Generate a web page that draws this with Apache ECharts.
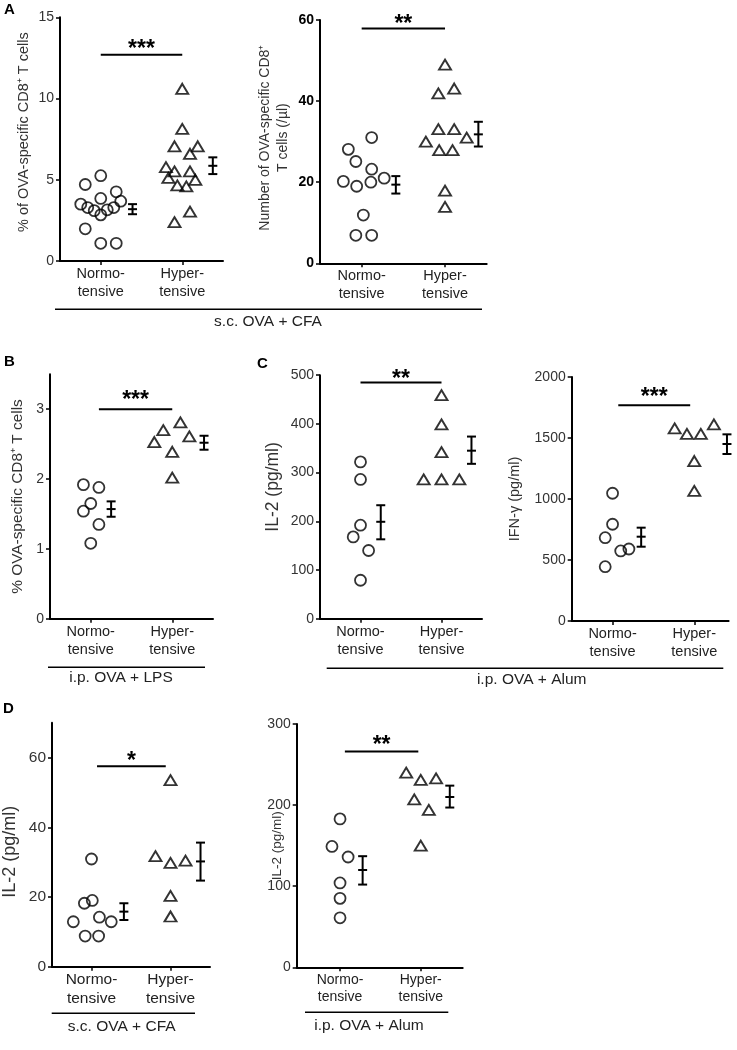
<!DOCTYPE html>
<html><head><meta charset="utf-8">
<script src="https://cdn.jsdelivr.net/npm/echarts@6/dist/echarts.min.js"></script>
<style>html,body{margin:0;padding:0;background:#fff}#c{width:737px;height:1050px}</style>
</head><body><div id="c"></div>
<script>
// ---------- DATA ----------
const groupLabels = ['Normo-\ntensive', 'Hyper-\ntensive'];

// Panel A (left): % of OVA-specific CD8+ T cells
const a1NormoY = [5.25, 4.71, 4.26, 3.85, 3.68, 3.5, 3.29, 3.1, 3.29, 3.15, 2.84, 1.98, 1.09, 1.09];
const a1NormoJ = [0, -0.19, 0.19, 0, 0.245, -0.245, -0.16, -0.08, 0.16, 0.08, 0, -0.19, 0, 0.19];
const a1HyperY = [10.6, 8.13, 7.06, 7.06, 6.6, 5.78, 5.51, 5.51, 5.12, 5.0, 4.65, 4.59, 3.04, 2.39];
const a1HyperJ = [0, 0, -0.095, 0.19, 0.095, -0.2, -0.095, 0.095, -0.17, 0.16, -0.06, 0.05, 0.095, -0.095];
const a1Stats = [[3.19, 2.88, 3.5], [5.86, 5.35, 6.38]]; // mean, low, high
const a1Sig = {from: 1, to: 2, y: 12.7, text: '***'};

// Panel A (right): number of OVA-specific CD8+ T cells (/µl)
const a2NormoY = [31.0, 28.1, 25.1, 23.2, 20.2, 19.0, 20.0, 21.0, 11.9, 6.9, 6.9];
const a2NormoJ = [0.12, -0.16, -0.07, 0.12, -0.22, -0.06, 0.11, 0.27, 0.02, -0.07, 0.12];
const a2HyperY = [49.0, 41.9, 43.1, 33.1, 33.1, 30.0, 31.0, 27.9, 27.9, 17.9, 13.9];
const a2HyperJ = [0, -0.08, 0.11, -0.08, 0.11, -0.23, 0.26, -0.07, 0.09, 0, 0];
const a2Stats = [[19.4, 17.2, 21.5], [31.8, 28.8, 34.9]];
const a2Sig = {from: 1, to: 2, y: 57.9, text: '**'};

// Panel B
const bNormoY = [1.92, 1.88, 1.65, 1.54, 1.35, 1.08];
const bNormoJ = [-0.09, 0.1, 0, -0.09, 0.1, 0];
const bHyperY = [2.81, 2.7, 2.61, 2.53, 2.39, 2.02];
const bHyperJ = [0.1, -0.11, 0.21, -0.22, 0, 0];
const bStats = [[1.57, 1.46, 1.68], [2.52, 2.42, 2.62]];
const bSig = {from: 1.1, to: 2, y: 3.0, text: '***'};

// Panel C (left): IL-2
const c1NormoY = [322, 286, 192, 168, 140, 79];
const c1NormoJ = [0, 0, 0, -0.09, 0.1, 0];
const c1HyperY = [459, 399, 342, 286, 286, 286];
const c1HyperJ = [0, 0, 0, -0.22, 0, 0.22];
const c1Stats = [[199, 163, 233], [345, 318, 374]];
const c1Sig = {from: 1, to: 2, y: 485, text: '**'};

// Panel C (right): IFN-γ
const c2NormoY = [1047, 793, 683, 574, 590, 445];
const c2NormoJ = [0, 0, -0.09, 0.1, 0.2, -0.09];
const c2HyperY = [1579, 1533, 1533, 1612, 1311, 1066];
const c2HyperJ = [-0.24, -0.09, 0.08, 0.24, 0, 0];
const c2Stats = [[691, 609, 765], [1451, 1369, 1530]];
const c2Sig = {from: 1.07, to: 1.95, y: 1768, text: '***'};

// Panel D (left): IL-2, s.c. OVA + CFA
const d1NormoY = [30.9, 18.2, 19.0, 12.9, 14.2, 12.9, 8.8, 8.8];
const d1NormoJ = [0, -0.09, 0.01, -0.23, 0.1, 0.25, -0.08, 0.09];
const d1HyperY = [53.5, 31.7, 29.8, 30.4, 20.3, 14.4];
const d1HyperJ = [0, -0.19, 0, 0.19, 0, 0];
const d1Stats = [[15.8, 13.4, 18.2], [30.2, 24.7, 35.6]];
const d1Sig = {from: 1.07, to: 1.94, y: 57.5, text: '*'};

// Panel D (right): IL-2, i.p. OVA + Alum
const d2NormoY = [183, 149, 136, 104, 85, 61];
const d2NormoJ = [0, -0.1, 0.1, 0, 0, 0];
const d2HyperY = [240, 231, 233, 207, 194, 150];
const d2HyperJ = [-0.18, 0, 0.19, -0.08, 0.1, 0];
const d2Stats = [[120, 102, 137], [210, 197, 224]];
const d2Sig = {from: 1.06, to: 1.97, y: 266, text: '**'};

// ---------- LAYOUT / STYLE ----------
const FONT = '"Liberation Sans", Arial, sans-serif';
const panels = [
  {grid: {left: 60, top: 17.3, width: 163, height: 243.7}, xr: [0.5, 2.5], yr: [0, 15], yTicks: [0, 5, 10, 15],
   name: '% of OVA-specific CD8⁺ T cells', gap: 27, pad: [0, 0, 0, 14], nameFs: 14.5, tickFs: 14, xFs: 14.5, bold: false, starGap: 9.7,
   nY: a1NormoY, nJ: a1NormoJ, hY: a1HyperY, hJ: a1HyperJ, st: a1Stats, eo: [0.39, 0.375], sig: a1Sig},
  {grid: {left: 320, top: 20, width: 166.7, height: 243.3}, xr: [0.5, 2.5], yr: [0, 60], yTicks: [0, 20, 40, 60],
   name: 'Number of OVA-specific CD8⁺\nT cells (/µl)', gap: 28, pad: [0, 0, 0, 8], nameFs: 14, tickFs: 14, xFs: 14.5, bold: true, starGap: 9,
   nY: a2NormoY, nJ: a2NormoJ, hY: a2HyperY, hJ: a2HyperJ, st: a2Stats, eo: [0.41, 0.4], sig: a2Sig},
  {grid: {left: 50, top: 374.3, width: 163, height: 244.4}, xr: [0.5, 2.5], yr: [0, 3.5], yTicks: [0, 1, 2, 3],
   name: '% OVA-specific CD8⁺ T cells', gap: 23, pad: [0, 0, 0, 0], nameFs: 15.4, tickFs: 14, xFs: 14.5, bold: false, starGap: 13.6,
   nY: bNormoY, nJ: bNormoJ, hY: bHyperY, hJ: bHyperJ, st: bStats, eo: [0.25, 0.39], sig: bSig},
  {grid: {left: 320, top: 375.2, width: 162, height: 243.5}, xr: [0.5, 2.5], yr: [0, 500], yTicks: [0, 100, 200, 300, 400, 500],
   name: 'IL-2 (pg/ml)', gap: 38, pad: [0, 0, 0, 20], nameFs: 17.5, tickFs: 14, xFs: 14.5, bold: false, starGap: 7.5,
   nY: c1NormoY, nJ: c1NormoJ, hY: c1HyperY, hJ: c1HyperJ, st: c1Stats, eo: [0.25, 0.37], sig: c1Sig},
  {grid: {left: 571.7, top: 377, width: 156.9, height: 244}, xr: [0.5, 2.42], yr: [0, 2000], yTicks: [0, 500, 1000, 1500, 2000],
   name: 'IFN-γ (pg/ml)', gap: 48, pad: [0, 0, 0, 0], nameFs: 14.5, tickFs: 14, xFs: 14.5, bold: false, starGap: 12.3,
   nY: c2NormoY, nJ: c2NormoJ, hY: c2HyperY, hJ: c2HyperJ, st: c2Stats, eo: [0.35, 0.4], sig: c2Sig},
  {grid: {left: 46.7, top: 722.7, width: 163.3, height: 244}, xr: [0.5, 2.5], yr: [0, 70], yTicks: [0, 20, 40, 60],
   name: 'IL-2 (pg/ml)', gap: 33, pad: [0, 14, 0, 0], nameFs: 18, tickFs: 15.5, xFs: 15.5, bold: false, starGap: 10,
   nY: d1NormoY, nJ: d1NormoJ, hY: d1HyperY, hJ: d1HyperJ, st: d1Stats, eo: [0.41, 0.38], sig: d1Sig},
  {grid: {left: 296.7, top: 724, width: 166, height: 243.3}, xr: [0.463, 2.52], yr: [0, 300], yTicks: [0, 100, 200, 300],
   name: 'IL-2 (pg/ml)', gap: 10, pad: [0, 0, 0, 0], nameFs: 13.5, tickFs: 14, xFs: 14, bold: false, starGap: 10.7,
   nY: d2NormoY, nJ: d2NormoJ, hY: d2HyperY, hJ: d2HyperJ, st: d2Stats, eo: [0.28, 0.36], sig: d2Sig}
];

const grids = [], xAxes = [], yAxes = [], series = [];
const axisLine = {show: true, onZero: false, lineStyle: {color: '#000', width: 2}};

function errRender(params, api) {
  const x = api.value(0), m = api.value(1), lo = api.value(2), hi = api.value(3);
  const pm = api.coord([x, m]), pl = api.coord([x, lo]), ph = api.coord([x, hi]);
  const w = 4.5, st = {stroke: '#000', lineWidth: 2};
  return {type: 'group', children: [
    {type: 'line', shape: {x1: pm[0], y1: ph[1], x2: pm[0], y2: pl[1]}, style: st},
    {type: 'line', shape: {x1: pm[0] - w, y1: ph[1], x2: pm[0] + w, y2: ph[1]}, style: st},
    {type: 'line', shape: {x1: pm[0] - w, y1: pm[1], x2: pm[0] + w, y2: pm[1]}, style: st},
    {type: 'line', shape: {x1: pm[0] - w, y1: pl[1], x2: pm[0] + w, y2: pl[1]}, style: st}
  ]};
}

panels.forEach((p, i) => {
  grids.push(Object.assign({containLabel: false}, p.grid));
  xAxes.push({
    type: 'value', gridIndex: i, min: p.xr[0], max: p.xr[1],
    axisLine: axisLine, splitLine: {show: false},
    axisTick: {show: true, customValues: [1, 2], length: 4, lineStyle: {color: '#000', width: 1.5}},
    axisLabel: {customValues: [1, 2], formatter: v => groupLabels[Math.round(v) - 1], margin: 4,
      fontFamily: FONT, fontSize: p.xFs, lineHeight: p.xFs + 3.5, color: '#222'}
  });
  yAxes.push({
    type: 'value', gridIndex: i, min: p.yr[0], max: p.yr[1],
    axisLine: axisLine, splitLine: {show: false},
    axisTick: {show: true, customValues: p.yTicks, length: 4, lineStyle: {color: '#000', width: 1.5}},
    axisLabel: {customValues: p.yTicks, formatter: v => String(v), margin: 6, fontFamily: FONT, fontSize: p.tickFs,
      color: p.bold ? '#000' : '#333', fontWeight: p.bold ? 'bold' : 'normal'},
    name: p.name, nameLocation: 'middle', nameGap: p.gap, nameMoveOverlap: false,
    nameTextStyle: {fontFamily: FONT, fontSize: p.nameFs, color: '#333', lineHeight: 18, padding: p.pad}
  });
  const mk = (ys, js, g) => ys.map((y, k) => [g + js[k], y]);
  series.push({
    type: 'scatter', xAxisIndex: i, yAxisIndex: i, symbol: 'circle', symbolSize: 11,
    itemStyle: {color: 'rgba(0,0,0,0)', borderColor: '#000', borderWidth: 1.8},
    data: mk(p.nY, p.nJ, 1), silent: true
  });
  series.push({
    type: 'scatter', xAxisIndex: i, yAxisIndex: i, symbol: 'triangle', symbolSize: [12, 10],
    itemStyle: {color: 'rgba(0,0,0,0)', borderColor: '#000', borderWidth: 1.9},
    data: mk(p.hY, p.hJ, 2), silent: true
  });
  series.push({
    type: 'custom', xAxisIndex: i, yAxisIndex: i, renderItem: errRender, silent: true,
    data: [[1 + p.eo[0]].concat(p.st[0]), [2 + p.eo[1]].concat(p.st[1])]
  });
  const sig = p.sig, sg = p.starGap;
  series.push({
    type: 'custom', xAxisIndex: i, yAxisIndex: i, silent: true,
    renderItem: (params, api) => {
      const a = api.coord([api.value(0), api.value(2)]), b = api.coord([api.value(1), api.value(2)]);
      return {type: 'group', children: [
        {type: 'line', shape: {x1: a[0], y1: a[1], x2: b[0], y2: b[1]}, style: {stroke: '#000', lineWidth: 2}},
        {type: 'text', x: (a[0] + b[0]) / 2, y: a[1] - sg + 5,
         style: {text: sig.text, fontSize: 23, fontWeight: 'bold', fontFamily: FONT, fill: '#000', align: 'center', verticalAlign: 'middle'}}
      ]};
    },
    data: [[sig.from, sig.to, sig.y]]
  });
});

// group brackets and panel letters
const groupLines = [
  {x1: 55, x2: 482, y: 309.3, text: 's.c. OVA + CFA', tx: 268, ty: 322},
  {x1: 48, x2: 205, y: 667.3, text: 'i.p. OVA + LPS', tx: 121, ty: 678},
  {x1: 326.7, x2: 723.3, y: 668.3, text: 'i.p. OVA + Alum', tx: 531.7, ty: 680},
  {x1: 51.7, x2: 195, y: 1013.3, text: 's.c. OVA + CFA', tx: 121.7, ty: 1026.7},
  {x1: 305, x2: 448.3, y: 1012.3, text: 'i.p. OVA + Alum', tx: 369, ty: 1026}
];
const letters = [['A', 4, 2], ['B', 4, 354], ['C', 257, 356], ['D', 3, 701]];
const graphic = [];
groupLines.forEach(g => {
  graphic.push({type: 'line', shape: {x1: g.x1, y1: g.y, x2: g.x2, y2: g.y}, style: {stroke: '#000', lineWidth: 1.6}, silent: true});
  graphic.push({type: 'text', x: g.tx, y: g.ty, style: {text: g.text, fontFamily: FONT, fontSize: 15.5, fill: '#222', align: 'center', verticalAlign: 'middle'}, silent: true});
});
letters.forEach(l => graphic.push({type: 'text', x: l[1], y: l[2], style: {text: l[0], fontFamily: FONT, fontSize: 15, fontWeight: 'bold', fill: '#000'}, silent: true}));

const chart = echarts.init(document.getElementById('c'), null, {renderer: 'canvas'});
chart.setOption({
  animation: false, backgroundColor: '#fff',
  grid: grids, xAxis: xAxes, yAxis: yAxes, series: series, graphic: graphic
});
</script></body></html>
